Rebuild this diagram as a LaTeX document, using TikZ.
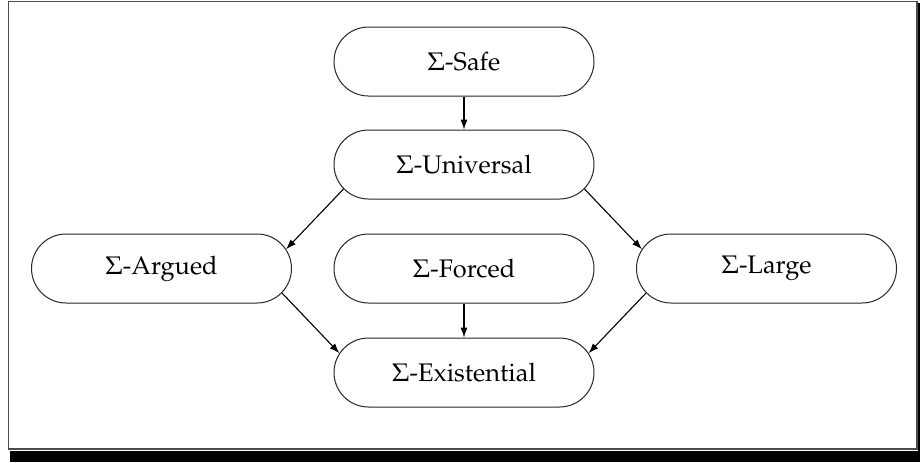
\documentclass[tikz,border=0pt]{standalone}
\usepackage[T1]{fontenc}
\usepackage{mathpazo}
\usetikzlibrary{arrows.meta,calc}

\tikzset{
  sigmabox/.style={draw=black!85, line width=0.5pt, rectangle,
    rounded corners=17.25pt, minimum width=130pt, minimum height=34.5pt,
    font=\fontsize{12.7pt}{15pt}\selectfont, inner sep=0pt},
  link/.style={draw=black, line width=0.55pt,
    -{Latex[length=5pt,width=3.6pt]}},
}

\begin{document}
\begin{tikzpicture}[x=0.5pt, y=-0.5pt]
  \useasboundingbox (0,0) rectangle (920,462);

  % framed panel with a drop shadow
  \fill[black] (10,451) rectangle (920,462);
  \fill[black] (918,3) rectangle (920,462);
  \draw[draw=black!70, line width=0.8pt, fill=white] (8.5,1.5) rectangle (917,449);

  % the six classes
  \node[sigmabox] (safe)  at (464,61.5)  {$\Sigma$-Safe};
  \node[sigmabox] (univ)  at (464,164.5) {$\Sigma$-Universal};
  \node[sigmabox] (argue) at (161.5,268.5) {$\Sigma$-Argued};
  \node[sigmabox] (force) at (464,268.5) {$\Sigma$-Forced};
  \node[sigmabox] (large) at (766.5,268.5) {$\Sigma$-Large};
  \node[sigmabox] (exist) at (464,372.5) {$\Sigma$-Existential};

  % inclusions
  \draw[link] (safe) -- (univ);
  \draw[link] (force) -- (exist);
  \draw[link] ([shift={(5.05pt,-12.2pt)}]univ.west)
           -- ([shift={(-2.95pt,9.65pt)}]argue.east);
  \draw[link] ([shift={(-5.05pt,-12.2pt)}]univ.east)
           -- ([shift={(2.95pt,9.65pt)}]large.west);
  \draw[link] ([shift={(-5.05pt,-12.2pt)}]argue.east)
           -- ([shift={(2.95pt,9.65pt)}]exist.west);
  \draw[link] ([shift={(5.05pt,-12.2pt)}]large.west)
           -- ([shift={(-2.95pt,9.65pt)}]exist.east);
\end{tikzpicture}
\end{document}
